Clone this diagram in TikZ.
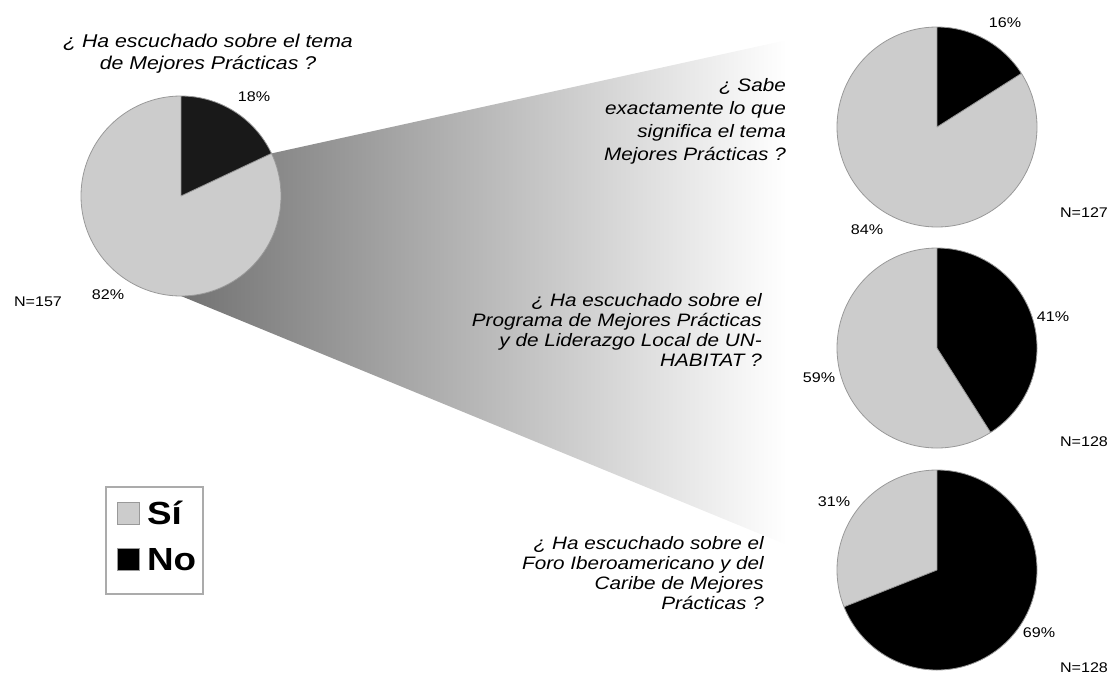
\documentclass[tikz,border=0pt]{standalone}
\usepackage{fontspec}
\setmainfont{Liberation Sans}[FakeStretch=1.15]
\usetikzlibrary{calc,positioning}

\begin{document}
\begin{tikzpicture}[
    x=1pt, y=-1pt,
    si/.style={fill=black!20},
    no/.style={fill=black},
    pieline/.style={draw=black!40, line width=0.8pt},
    beam/.style={left color=black!55, middle color=black!25, right color=white},
    title/.style={font=\itshape\fontsize{18.5}{22}\selectfont, align=center, inner sep=0pt},
    question/.style={font=\itshape\fontsize{18}{20}\selectfont, align=right, inner sep=0pt, anchor=east},
    pct/.style={font=\fontsize{14}{16}\selectfont, inner sep=0pt},
    swatch/.style={draw=black!40, line width=0.8pt, minimum size=22pt, inner sep=0pt},
    legendtext/.style={font=\bfseries\fontsize{32}{34}\selectfont, inner sep=0pt}
]
    \useasboundingbox (0,0) rectangle (1117,678);

    % centres of the pies
    \coordinate (p0) at (181,196);
    \coordinate (p1) at (937,127);
    \coordinate (p2) at (937,348);
    \coordinate (p3) at (937,570);

    % the grey beam from the first pie to the questions
    \path[beam] (p0) -- ($(p0)+(-25.2:100)$) -- (787,40) -- (787,545) -- ($(p0)+(90:100)$) -- cycle;

    % pie 0: 82% / 18%
    \fill[si] (p0) circle[radius=100];
    \fill[no, black!90] (p0) -- ++(-90:100) arc[start angle=-90, end angle=-25.2, radius=100] -- cycle;
    \draw[pieline] (p0) circle[radius=100] (p0) -- ++(-90:100) (p0) -- ++(-25.2:100);

    % pie 1: 84% / 16%
    \fill[si] (p1) circle[radius=100];
    \fill[no] (p1) -- ++(-90:100) arc[start angle=-90, end angle=-32.4, radius=100] -- cycle;
    \draw[pieline] (p1) circle[radius=100] (p1) -- ++(-90:100) (p1) -- ++(-32.4:100);

    % pie 2: 59% / 41%
    \fill[si] (p2) circle[radius=100];
    \fill[no] (p2) -- ++(-90:100) arc[start angle=-90, end angle=57.6, radius=100] -- cycle;
    \draw[pieline] (p2) circle[radius=100] (p2) -- ++(-90:100) (p2) -- ++(57.6:100);

    % pie 3: 31% / 69%
    \fill[si] (p3) circle[radius=100];
    \fill[no] (p3) -- ++(-90:100) arc[start angle=-90, end angle=158.4, radius=100] -- cycle;
    \draw[pieline] (p3) circle[radius=100] (p3) -- ++(-90:100) (p3) -- ++(158.4:100);

    % questions
    \node[title] (q0) at (208,54) {¿ Ha escuchado sobre el tema\\de Mejores Prácticas ?};
    \node[question, font=\itshape\fontsize{18}{23}\selectfont] (q1) at (786,121) {¿ Sabe\\exactamente lo que\\significa el tema\\Mejores Prácticas ?};
    \node[question] (q2) at (762,330) {¿ Ha escuchado sobre el\\Programa de Mejores Prácticas\\y de Liderazgo Local de UN-\\HABITAT ?};
    \node[question] (q3) at (764,573) {¿ Ha escuchado sobre el\\Foro Iberoamericano y del\\Caribe de Mejores\\Prácticas ?};

    % percentages and sample sizes
    \node[pct] (no0) at (254,97) {18\%};
    \node[pct] (si0) at (108,295) {82\%};
    \node[pct] (n0) at (38,302) {N=157};
    \node[pct] (no1) at (1005,23) {16\%};
    \node[pct] (si1) at (867,230) {84\%};
    \node[pct] (n1) at (1084,213) {N=127};
    \node[pct] (no2) at (1053,317) {41\%};
    \node[pct] (si2) at (819,378) {59\%};
    \node[pct] (n2) at (1084,442) {N=128};
    \node[pct] (si3) at (834,502) {31\%};
    \node[pct] (no3) at (1039,633) {69\%};
    \node[pct] (n3) at (1084,668) {N=128};

    % legend
    \draw[draw=black!33, line width=2.5pt] (106,487) rectangle (203,594);
    \node[swatch, si] (si box) at (128.5,513) {};
    \node[legendtext, right=7pt of si box] (si label) {Sí};
    \node[swatch, no] (no box) at (128.5,559.5) {};
    \node[legendtext, right=7pt of no box] (no label) {No};
\end{tikzpicture}
\end{document}
